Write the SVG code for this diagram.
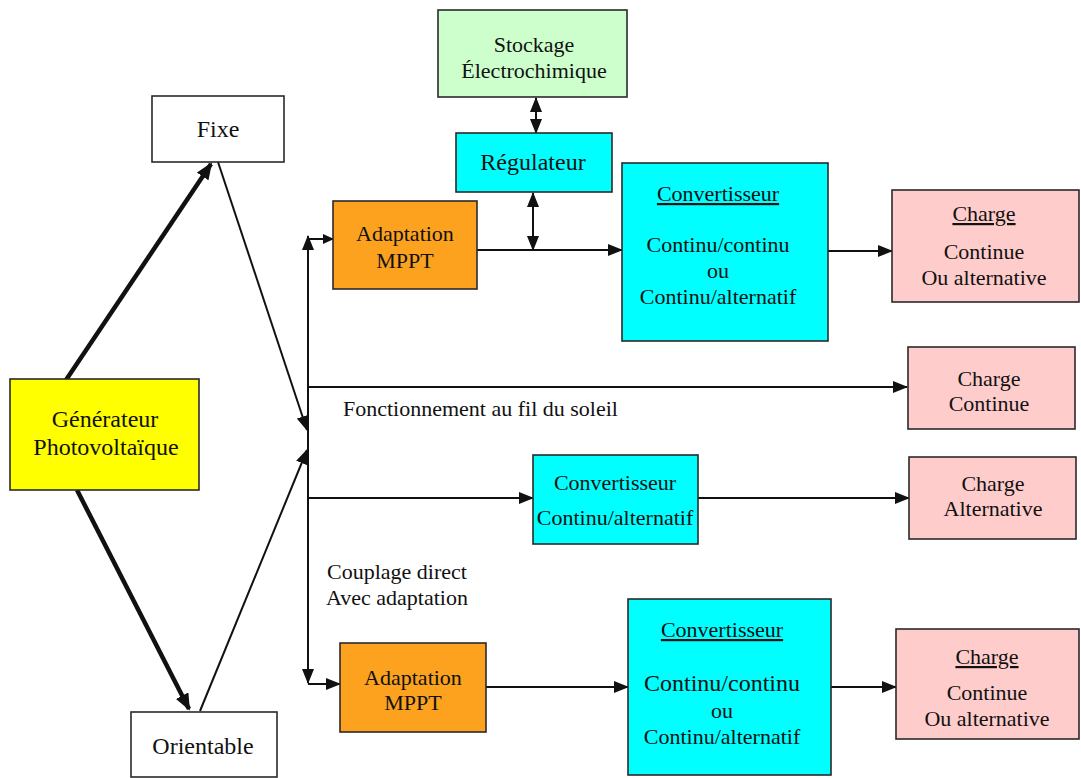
<svg xmlns="http://www.w3.org/2000/svg" width="1081" height="778" viewBox="0 0 1081 778">
<style>
.box{stroke:#2a2a2a;stroke-width:1.6}
.t{font-family:"Liberation Serif","Times New Roman",serif;font-size:22px;fill:#111;text-anchor:middle}
.tl{font-family:"Liberation Serif","Times New Roman",serif;font-size:22px;fill:#111;text-anchor:start}
.u{text-decoration:underline}
.c{stroke:#111;stroke-width:2;fill:none}
.thick{stroke:#111;stroke-width:4.5;fill:none}
</style>
<defs>
<marker id="ah" markerUnits="userSpaceOnUse" markerWidth="16" markerHeight="12" refX="14" refY="6" orient="auto-start-reverse"><path d="M0,0 L15,6 L0,12 z" fill="#111"/></marker>
<marker id="ahs" markerUnits="userSpaceOnUse" markerWidth="12" markerHeight="10" refX="10" refY="5" orient="auto-start-reverse"><path d="M0,0 L11,5 L0,10 z" fill="#111"/></marker>
<marker id="ahb" markerUnits="userSpaceOnUse" markerWidth="18" markerHeight="14" refX="15" refY="7" orient="auto-start-reverse"><path d="M0,0 L17,7 L0,14 z" fill="#111"/></marker>
</defs>
<rect width="1081" height="778" fill="#fff"/>

<g id="connectors">
<line class="thick" x1="66" y1="380" x2="211" y2="164" marker-end="url(#ahb)"/>
<line class="c" x1="218" y1="162" x2="307" y2="430" marker-end="url(#ah)"/>
<line class="thick" x1="77" y1="490" x2="189" y2="709" marker-end="url(#ahb)"/>
<line class="c" x1="200" y1="711" x2="307" y2="450" marker-end="url(#ah)"/>
<line class="c" x1="308" y1="683" x2="308" y2="236" marker-start="url(#ah)" marker-end="url(#ah)"/>
<line class="c" x1="308" y1="239" x2="333" y2="239" marker-end="url(#ahs)"/>
<line class="c" x1="308" y1="684" x2="340" y2="684" marker-end="url(#ah)"/>
<line class="c" x1="308" y1="387" x2="907" y2="387" marker-end="url(#ah)"/>
<line class="c" x1="308" y1="498" x2="533" y2="498" marker-end="url(#ah)"/>
<line class="c" x1="477" y1="250" x2="622" y2="250" marker-end="url(#ah)"/>
<line class="c" x1="533" y1="193" x2="533" y2="250" marker-start="url(#ah)" marker-end="url(#ah)"/>
<line class="c" x1="536" y1="98" x2="536" y2="133" marker-start="url(#ah)" marker-end="url(#ah)"/>
<line class="c" x1="828" y1="251" x2="892" y2="251" marker-end="url(#ah)"/>
<line class="c" x1="698" y1="498" x2="909" y2="498" marker-end="url(#ah)"/>
<line class="c" x1="486" y1="687" x2="628" y2="687" marker-end="url(#ah)"/>
<line class="c" x1="831" y1="687" x2="896" y2="687" marker-end="url(#ah)"/>
</g>

<g id="generateur">
<rect class="box" x="10" y="379" width="189" height="111" fill="#ffff00"/>
<text class="t" x="105" y="427" style="font-size:24px">Générateur</text>
<text class="t" x="106" y="455" style="font-size:24px">Photovoltaïque</text>
</g>

<g id="fixe">
<rect class="box" x="152" y="96" width="132" height="66" fill="#fff"/>
<text class="t" x="218" y="137" style="font-size:24px">Fixe</text>
</g>

<g id="orientable">
<rect class="box" x="131" y="712" width="146" height="65" fill="#fff"/>
<text class="t" x="203" y="754" style="font-size:24px">Orientable</text>
</g>

<g id="stockage">
<rect class="box" x="438" y="10" width="189" height="87" fill="#ccffcc"/>
<text class="t" x="534" y="52">Stockage</text>
<text class="t" x="534" y="78">Électrochimique</text>
</g>

<g id="regulateur">
<rect class="box" x="456" y="133" width="156" height="59" fill="#00ffff"/>
<text class="t" x="533" y="170" style="font-size:24px">Régulateur</text>
</g>

<g id="mppt1">
<rect class="box" x="333" y="201" width="144" height="88" fill="#fca21e"/>
<text class="t" x="405" y="241">Adaptation</text>
<text class="t" x="405" y="268">MPPT</text>
</g>

<g id="convertisseur1">
<rect class="box" x="622" y="163" width="206" height="178" fill="#00ffff"/>
<text class="t u" x="718" y="201">Convertisseur</text>
<text class="t" x="718" y="252">Continu/continu</text>
<text class="t" x="718" y="278">ou</text>
<text class="t" x="718" y="304">Continu/alternatif</text>
</g>

<g id="charge1">
<rect class="box" x="892" y="190" width="187" height="112" fill="#ffcccc"/>
<text class="t u" x="984" y="221">Charge</text>
<text class="t" x="984" y="259">Continue</text>
<text class="t" x="984" y="285">Ou alternative</text>
</g>

<g id="label-fil-soleil">
<text class="tl" x="343" y="416">Fonctionnement au fil du soleil</text>
</g>

<g id="charge2">
<rect class="box" x="908" y="347" width="167" height="82" fill="#ffcccc"/>
<text class="t" x="989" y="386">Charge</text>
<text class="t" x="989" y="411">Continue</text>
</g>

<g id="convertisseur2">
<rect class="box" x="533" y="455" width="165" height="89" fill="#00ffff"/>
<text class="t" x="615" y="490">Convertisseur</text>
<text class="t" x="615" y="525">Continu/alternatif</text>
</g>

<g id="charge3">
<rect class="box" x="909" y="457" width="167" height="82" fill="#ffcccc"/>
<text class="t" x="993" y="491">Charge</text>
<text class="t" x="993" y="516">Alternative</text>
</g>

<g id="label-couplage">
<text class="tl" x="327" y="579">Couplage direct</text>
<text class="tl" x="326" y="605">Avec adaptation</text>
</g>

<g id="mppt2">
<rect class="box" x="340" y="643" width="146" height="89" fill="#fca21e"/>
<text class="t" x="413" y="685">Adaptation</text>
<text class="t" x="413" y="710">MPPT</text>
</g>

<g id="convertisseur3">
<rect class="box" x="628" y="599" width="203" height="176" fill="#00ffff"/>
<text class="t u" x="722" y="637">Convertisseur</text>
<text class="t" x="722" y="691" style="font-size:24px">Continu/continu</text>
<text class="t" x="722" y="718">ou</text>
<text class="t" x="722" y="744">Continu/alternatif</text>
</g>

<g id="charge4">
<rect class="box" x="896" y="629" width="183" height="110" fill="#ffcccc"/>
<text class="t u" x="987" y="664">Charge</text>
<text class="t" x="987" y="700">Continue</text>
<text class="t" x="987" y="726">Ou alternative</text>
</g>
</svg>
